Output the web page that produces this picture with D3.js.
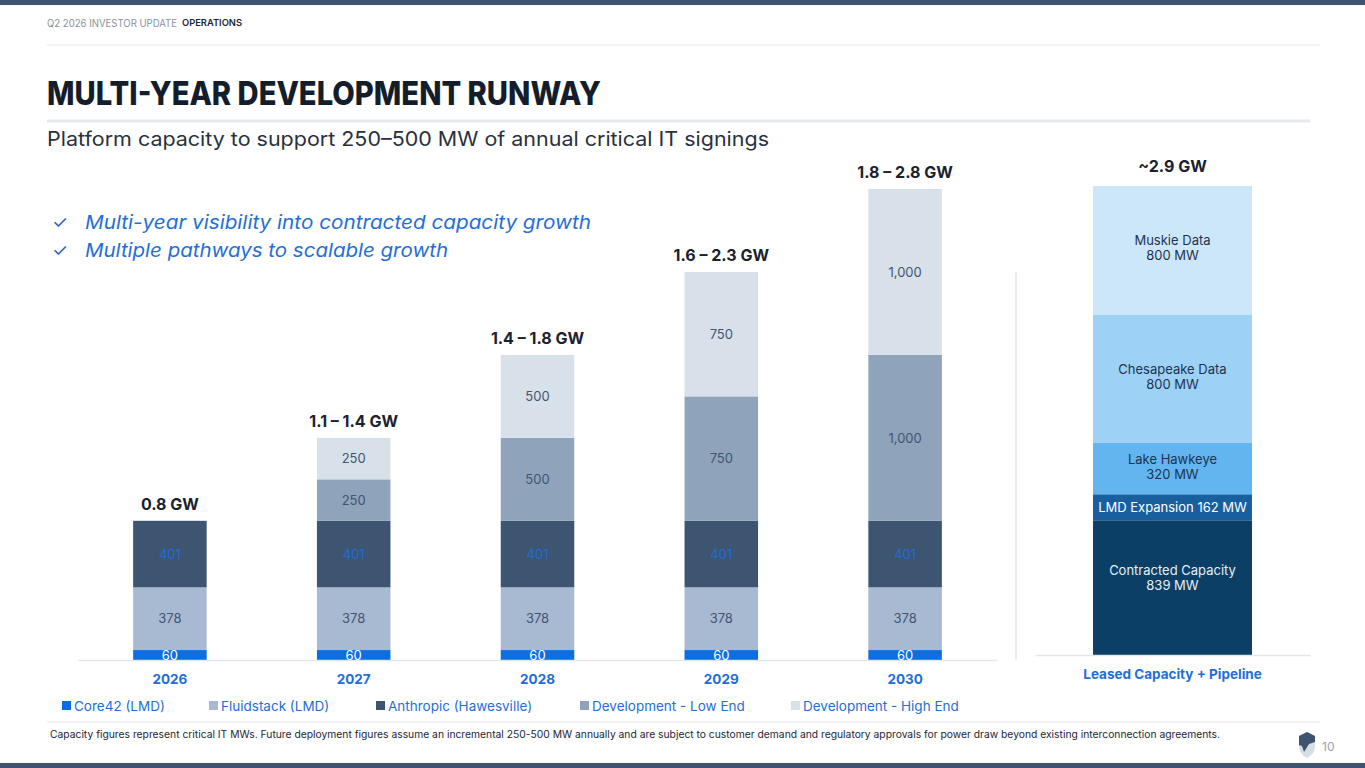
<!DOCTYPE html>
<html lang="en">
<head>
<meta charset="UTF-8">
<title>Multi-Year Development Runway</title>
<script src="https://cdnjs.cloudflare.com/ajax/libs/d3/7.8.5/d3.min.js"></script>
<style>
  html, body { margin: 0; padding: 0; background: #fff; }
  svg { display: block; font-family: Inter, "Noto Sans", sans-serif; }
</style>
</head>
<body>
<svg id="slide" width="1365" height="768"></svg>
<script>
// data
const years = ['2026', '2027', '2028', '2029', '2030'];
const core42 = [60, 60, 60, 60, 60];
const fluidstack = [378, 378, 378, 378, 378];
const anthropic = [401, 401, 401, 401, 401];
const devLow = [0, 250, 500, 750, 1000];
const devHigh = [0, 250, 500, 750, 1000];
const rangeLabels = ['0.8 GW', '1.1 \u2013 1.4 GW', '1.4 \u2013 1.8 GW', '1.6 \u2013 2.3 GW', '1.8 \u2013 2.8 GW'];

const seriesKeys = ['core42', 'fluidstack', 'anthropic', 'devLow', 'devHigh'];
const seriesNames = ['Core42 (LMD)', 'Fluidstack (LMD)', 'Anthropic (Hawesville)', 'Development - Low End', 'Development - High End'];
const seriesColors = ['#0b6fe3', '#a8bad1', '#3d5571', '#8fa3ba', '#d8e0ea'];
const seriesLabelColors = ['#ffffff', '#3f5672', '#1e6cd6', '#3f5672', '#3f5672'];

const pipelineCategory = ['Leased Capacity + Pipeline'];
const pipelineNames = ['Contracted Capacity', 'LMD Expansion', 'Lake Hawkeye', 'Chesapeake Data', 'Muskie Data'];
const pipelineMW = [839, 162, 320, 800, 800];
const pipelineColors = ['#0c3f66', '#17609d', '#62b5ef', '#9dd1f6', '#cde7fa'];
const pipelineLabelColors = ['#e6eef5', '#ffffff', '#1e3350', '#1e3350', '#1e3350'];
const pipelineTotal = '~2.9 GW';

const svg = d3.select('#slide');
const fmt = d3.format(',');

// page chrome
svg.append('rect').attr('x', 0).attr('y', 0).attr('width', 1365).attr('height', 5).attr('fill', '#3d5370');
svg.append('rect').attr('x', 0).attr('y', 763).attr('width', 1365).attr('height', 5).attr('fill', '#3d5370');

svg.append('text').attr('x', 47).attr('y', 27)
  .attr('font-size', 10).attr('fill', '#8a929c').attr('textLength', 130).attr('lengthAdjust', 'spacingAndGlyphs')
  .text('Q2 2026 INVESTOR UPDATE');
svg.append('text').attr('x', 182).attr('y', 26)
  .attr('font-size', 9.5).attr('font-weight', 600).attr('fill', '#1d2633').attr('textLength', 60).attr('lengthAdjust', 'spacingAndGlyphs')
  .text('OPERATIONS');
svg.append('line').attr('x1', 47).attr('x2', 1320).attr('y1', 45).attr('y2', 45).attr('stroke', '#e4e7eb').attr('stroke-width', 1);

svg.append('text').attr('x', 47).attr('y', 105)
  .attr('font-size', 33).attr('font-weight', 800).attr('fill', '#141d2b')
  .attr('textLength', 554).attr('lengthAdjust', 'spacingAndGlyphs')
  .text('MULTI-YEAR DEVELOPMENT RUNWAY');
svg.append('line').attr('x1', 47).attr('x2', 1310).attr('y1', 121).attr('y2', 121).attr('stroke', '#e6e9ed').attr('stroke-width', 3);

svg.append('text').attr('x', 47).attr('y', 146)
  .attr('font-size', 20).attr('fill', '#28313d')
  .attr('textLength', 722).attr('lengthAdjust', 'spacingAndGlyphs')
  .text('Platform capacity to support 250\u2013500 MW of annual critical IT signings');

const bullets = ['Multi-year visibility into contracted capacity growth', 'Multiple pathways to scalable growth'];
const bulletWidths = [506, 363];
bullets.forEach((b, i) => {
  const y = 229 + i * 28;
  svg.append('text').attr('x', 52).attr('y', y).attr('font-size', 18).attr('fill', '#1f62b8').text('\u2713');
  svg.append('text').attr('x', 85).attr('y', y)
    .attr('font-size', 19).attr('font-style', 'italic').attr('fill', '#1f6fd6')
    .attr('textLength', bulletWidths[i]).attr('lengthAdjust', 'spacingAndGlyphs')
    .text(b);
});

// left stacked chart
const rows = years.map((yr, i) => ({
  year: yr, core42: core42[i], fluidstack: fluidstack[i], anthropic: anthropic[i], devLow: devLow[i], devHigh: devHigh[i]
}));
const stacked = d3.stack().keys(seriesKeys)(rows);
const maxTotal = d3.max(rows, d => d3.sum(seriesKeys, k => d[k]));

const x = d3.scaleBand().domain(years).range([78, 997]).paddingInner(0.6).paddingOuter(0.3);
const y = d3.scaleLinear().domain([0, maxTotal]).range([660, 189]);

const layers = svg.append('g').selectAll('g').data(stacked).join('g')
  .attr('fill', (d, i) => seriesColors[i]);
layers.selectAll('rect').data(d => d).join('rect')
  .attr('x', d => x(d.data.year))
  .attr('width', x.bandwidth())
  .attr('y', d => y(d[1]))
  .attr('height', d => y(d[0]) - y(d[1]));

stacked.forEach((layer, i) => {
  svg.append('g').selectAll('text').data(layer.filter(d => d[1] - d[0] > 0)).join('text')
    .attr('x', d => x(d.data.year) + x.bandwidth() / 2)
    .attr('y', d => (y(d[0]) + y(d[1])) / 2)
    .attr('dy', '0.36em')
    .attr('text-anchor', 'middle')
    .attr('font-size', 13)
    .attr('fill', seriesLabelColors[i])
    .text(d => fmt(d[1] - d[0]));
});

svg.append('g').selectAll('text').data(rows).join('text')
  .attr('x', d => x(d.year) + x.bandwidth() / 2)
  .attr('y', d => y(d3.sum(seriesKeys, k => d[k])) - 11)
  .attr('text-anchor', 'middle')
  .attr('font-size', 16).attr('font-weight', 700).attr('fill', '#1a2230')
  .text((d, i) => rangeLabels[i]);

const xAxis = svg.append('g').attr('transform', 'translate(0,660)')
  .call(d3.axisBottom(x).tickSize(0).tickPadding(14));
xAxis.select('.domain').attr('stroke', '#e3e7ec').attr('stroke-width', 1.5);
xAxis.selectAll('text').attr('font-size', 13.5).attr('font-weight', 700).attr('fill', '#1f6fd6').attr('font-family', 'Inter, sans-serif');

// legend
const legendX = [62, 209, 376, 580, 791];
const legend = svg.append('g').selectAll('g').data(seriesNames).join('g')
  .attr('transform', (d, i) => `translate(${legendX[i]},706)`);
legend.append('rect').attr('x', 0).attr('y', -5).attr('width', 9).attr('height', 9)
  .attr('fill', (d, i) => seriesColors[i]);
legend.append('text').attr('x', 12).attr('dy', '0.36em')
  .attr('font-size', 13.5).attr('fill', '#1f6fd6').text(d => d);

// divider between charts
svg.append('line').attr('x1', 1016).attr('x2', 1016).attr('y1', 272).attr('y2', 660).attr('stroke', '#e3e7ec').attr('stroke-width', 1.5);

// right stacked bar
const pipelineRow = { cat: pipelineCategory[0] };
pipelineNames.forEach((n, i) => { pipelineRow[n] = pipelineMW[i]; });
const pipeStack = d3.stack().keys(pipelineNames)([pipelineRow]);

const x2 = d3.scaleBand().domain(pipelineCategory).range([1035, 1310]).paddingInner(0).paddingOuter(0.365);
const y2 = d3.scaleLinear().domain([0, d3.sum(pipelineMW)]).range([655, 186]);

svg.append('g').selectAll('rect').data(pipeStack).join('rect')
  .attr('x', x2(pipelineCategory[0]))
  .attr('width', x2.bandwidth())
  .attr('y', d => y2(d[0][1]))
  .attr('height', d => y2(d[0][0]) - y2(d[0][1]))
  .attr('fill', (d, i) => pipelineColors[i]);

const pipeLabels = svg.append('g').selectAll('text').data(pipeStack).join('text')
  .attr('x', x2(pipelineCategory[0]) + x2.bandwidth() / 2)
  .attr('y', d => (y2(d[0][0]) + y2(d[0][1])) / 2)
  .attr('text-anchor', 'middle')
  .attr('font-size', 13)
  .attr('fill', (d, i) => pipelineLabelColors[i]);
pipeLabels.each(function(d, i) {
  const t = d3.select(this);
  const val = pipelineMW[i] + ' MW';
  if (pipelineMW[i] < 200) {
    t.append('tspan').attr('dy', '0.36em').text(pipelineNames[i] + ' ' + val);
  } else {
    const lift = i === 0 ? -9 : -1;
    t.append('tspan').attr('x', t.attr('x')).attr('dy', (lift - 4) + 'px').text(pipelineNames[i]);
    t.append('tspan').attr('x', t.attr('x')).attr('dy', '15px').text(val);
  }
});

svg.append('text').attr('x', x2(pipelineCategory[0]) + x2.bandwidth() / 2).attr('y', y2(d3.sum(pipelineMW)) - 14)
  .attr('text-anchor', 'middle').attr('font-size', 16).attr('font-weight', 700).attr('fill', '#1a2230')
  .text(pipelineTotal);

const x2Axis = svg.append('g').attr('transform', 'translate(0,655)')
  .call(d3.axisBottom(x2).tickSize(0).tickPadding(14));
x2Axis.select('.domain').attr('stroke', '#e3e7ec').attr('stroke-width', 1.5);
x2Axis.selectAll('text').attr('font-size', 13.5).attr('font-weight', 700).attr('fill', '#1f6fd6').attr('font-family', 'Inter, sans-serif');

// footer
svg.append('line').attr('x1', 47).attr('x2', 1320).attr('y1', 722).attr('y2', 722).attr('stroke', '#e4e7eb').attr('stroke-width', 1);
svg.append('text').attr('x', 50).attr('y', 738)
  .attr('font-size', 10).attr('fill', '#1d2633')
  .attr('textLength', 1170).attr('lengthAdjust', 'spacingAndGlyphs')
  .text('Capacity figures represent critical IT MWs. Future deployment figures assume an incremental 250-500 MW annually and are subject to customer demand and regulatory approvals for power draw beyond existing interconnection agreements.');

const logo = svg.append('g').attr('transform', 'translate(1298,732)');
logo.append('path').attr('d', 'M1,4 L9,0 L17,4 L17,14 Q17,22 9,26 Q1,22 1,14 Z').attr('fill', '#d7dde5');
logo.append('path').attr('d', 'M1,4 L9,0 L17,4 L17,10 L11,12 L6,20 L4,14 L1,13 Z').attr('fill', '#3d5370');
svg.append('text').attr('x', 1322).attr('y', 751).attr('font-size', 12).attr('fill', '#9aa2ac').text('10');
</script>
</body>
</html>
